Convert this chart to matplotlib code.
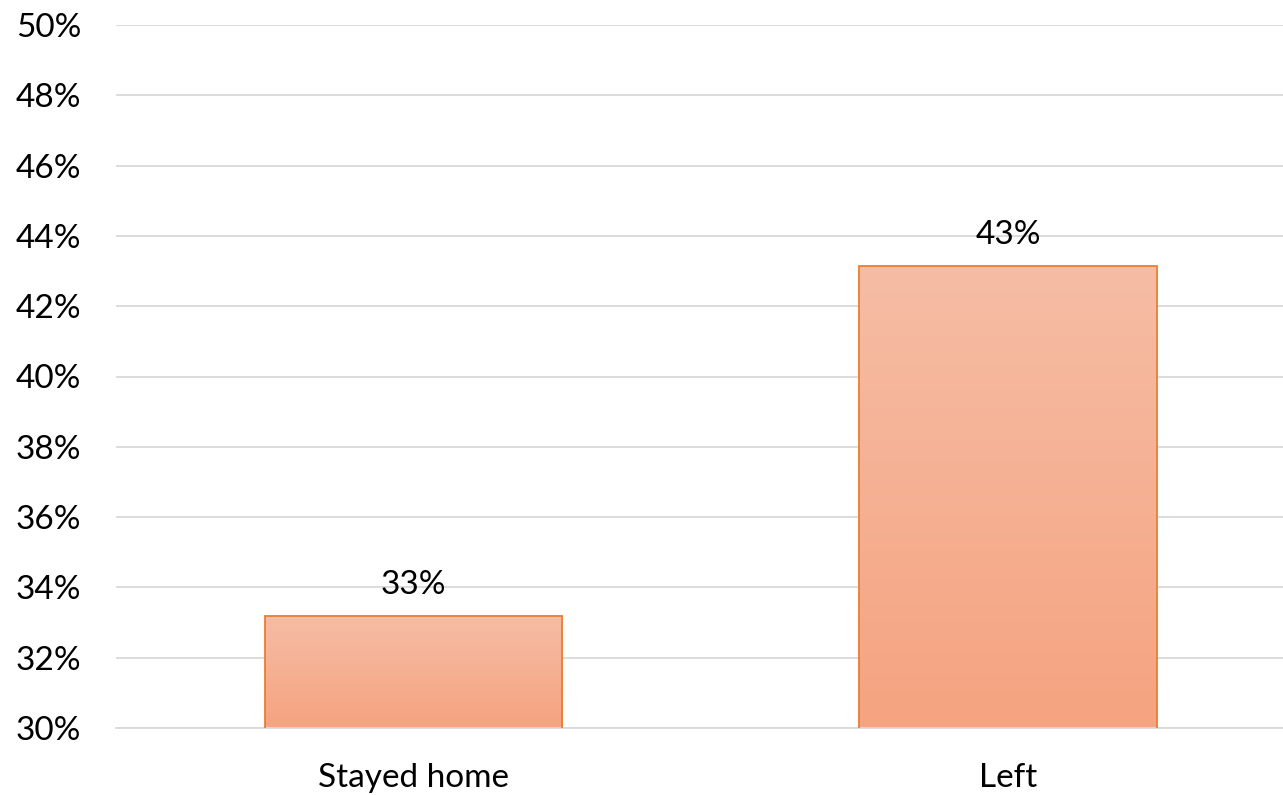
import matplotlib
matplotlib.use("Agg")
import matplotlib.pyplot as plt
import numpy as np
from matplotlib.colors import LinearSegmentedColormap
from matplotlib.ticker import FuncFormatter

categories = ["Stayed home", "Left"]
values = [33.2, 43.15]
labels = ["33%", "43%"]

plt.rcParams["font.family"] = ["Lato", "DejaVu Sans"]

fig = plt.figure(figsize=(12.83, 7.95), dpi=100)
ax = fig.add_axes([116 / 1283, (795 - 728) / 795, (1283 - 116) / 1283, (728 - 25) / 795])

x = np.arange(len(categories))
width = 0.5
bars = ax.bar(x, values, width, bottom=0, color="none", edgecolor="#ED7D31",
              linewidth=1.3, zorder=3)

# vertical gradient inside each bar, darker at the bottom
cmap = LinearSegmentedColormap.from_list("grad", ["#F5A380", "#F6BDA5"])
grad = np.linspace(0, 1, 256).reshape(-1, 1)
for b in bars:
    x0, y0 = b.get_x(), 30
    x1, y1 = x0 + b.get_width(), b.get_height()
    im = ax.imshow(grad, cmap=cmap, origin="lower", aspect="auto",
                   extent=[x0, x1, y0, y1], zorder=2)
    im.set_clip_path(b)

for xi, v, lab in zip(x, values, labels):
    ax.annotate(lab, (xi, v), xytext=(0, 11), textcoords="offset points",
                ha="center", va="bottom", fontsize=24, color="#000000")

ax.set_xlim(-0.5, 1.5 - 22.5 / 595)
ax.set_ylim(30, 50)
ax.set_yticks(np.arange(30, 51, 2))
ax.yaxis.set_major_formatter(FuncFormatter(lambda v, p: f"{v:.0f}%"))
ax.set_xticks(x)
ax.set_xticklabels(categories)
ax.tick_params(axis="both", length=0, labelsize=24, colors="#000000")
ax.tick_params(axis="y", pad=25)
ax.tick_params(axis="x", pad=25)
ax.grid(axis="y", color="#D9D9D9", linewidth=1.3, zorder=0)
ax.set_axisbelow(True)
for s in ["top", "right", "left"]:
    ax.spines[s].set_visible(False)
ax.spines["bottom"].set_color("#D9D9D9")
ax.spines["bottom"].set_linewidth(1.3)

fig.savefig("out.png", dpi=100)
